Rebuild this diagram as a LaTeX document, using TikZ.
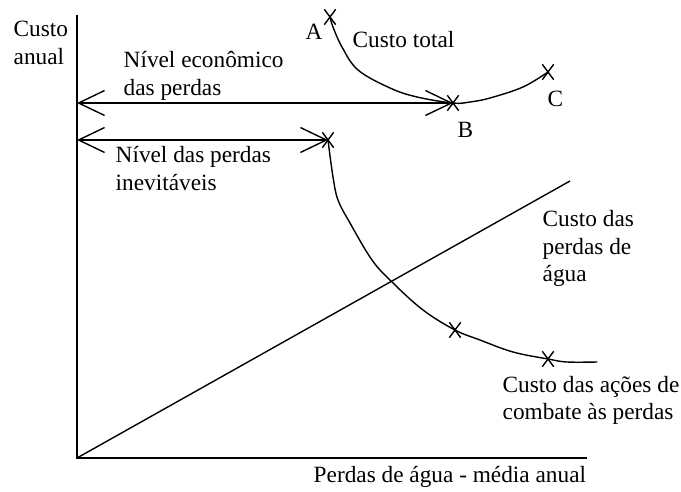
\documentclass[tikz,border=0pt]{standalone}
\usepackage{fontspec}
\setmainfont{Liberation Serif}
\usetikzlibrary{arrows.meta,shapes.misc}
\begin{document}
\begin{tikzpicture}[x=1pt,y=-1pt,line width=1.4pt,
  lbl/.style={anchor=base west,inner sep=0pt,font=\fontsize{23.3}{27.5}\selectfont},
  xmark/.style={cross out,draw,line width=1.4pt,minimum width=10pt,minimum height=14pt,inner sep=0pt},
  dimarrow/.style={{Straight Barb[length=26pt,width=25pt]}-{Straight Barb[length=26pt,width=25pt]}},
  curve/.style={line join=round,line cap=round}
]
\useasboundingbox (0,0) rectangle (681,492);
% axes
\coordinate (top) at (77,15);
\coordinate (O) at (77,458);
\coordinate (xend) at (587,458);
\coordinate (diag) at (570,181);
\coordinate (L1) at (77,103);
\coordinate (L2) at (77,140);
\coordinate (cend) at (597,362);
% marks
\node[xmark] (mA) at (330,17) {};
\node[xmark] (mB) at (453,103) {};
\node[xmark] (mC) at (548,72) {};
\node[xmark] (mP) at (328,140) {};
\node[xmark] (mD) at (455,330) {};
\node[xmark] (mE) at (548,359) {};
\draw (top) -- (O) -- (xend);
\draw (O) -- (diag);
\draw[dimarrow] (L1) -- (mB.center);
\draw[dimarrow] (L2) -- (mP.center);
\draw[curve] plot[smooth,tension=0.6] coordinates {(mA.center) (333,27) (342,47) (358,70) (390,88) (417,97) (mB.center) (470,102) (490,98) (523,87) (mC.center)};
\draw[curve] plot[smooth,tension=0.6] coordinates {(mP.center) (333,177) (338,200) (350,223) (372,260) (392,282) (423,310) (mD.center) (480,340) (513,352) (mE.center) (567,362) (cend)};
% labels
\node[lbl] (ty) at (13,37) {\begin{tabular}[t]{@{}l@{}}Custo\\anual\end{tabular}};
\node[lbl] (tne) at (123,68) {\begin{tabular}[t]{@{}l@{}}Nível econômico\\das perdas\end{tabular}};
\node[lbl] (tni) at (115,163) {\begin{tabular}[t]{@{}l@{}}Nível das perdas\\inevitáveis\end{tabular}};
\node[lbl] (tA) at (305,40) {A};
\node[lbl] (tct) at (352,48) {Custo total};
\node[lbl] (tB) at (457,138) {B};
\node[lbl] (tC) at (547,107) {C};
\node[lbl] (tcp) at (542,227) {\begin{tabular}[t]{@{}l@{}}Custo das\\perdas de\\água\end{tabular}};
\node[lbl] (tca) at (502,392) {\begin{tabular}[t]{@{}l@{}}Custo das ações de\\combate às perdas\end{tabular}};
\node[lbl] (tx) at (313,482) {Perdas de água - média anual};
\end{tikzpicture}
\end{document}
